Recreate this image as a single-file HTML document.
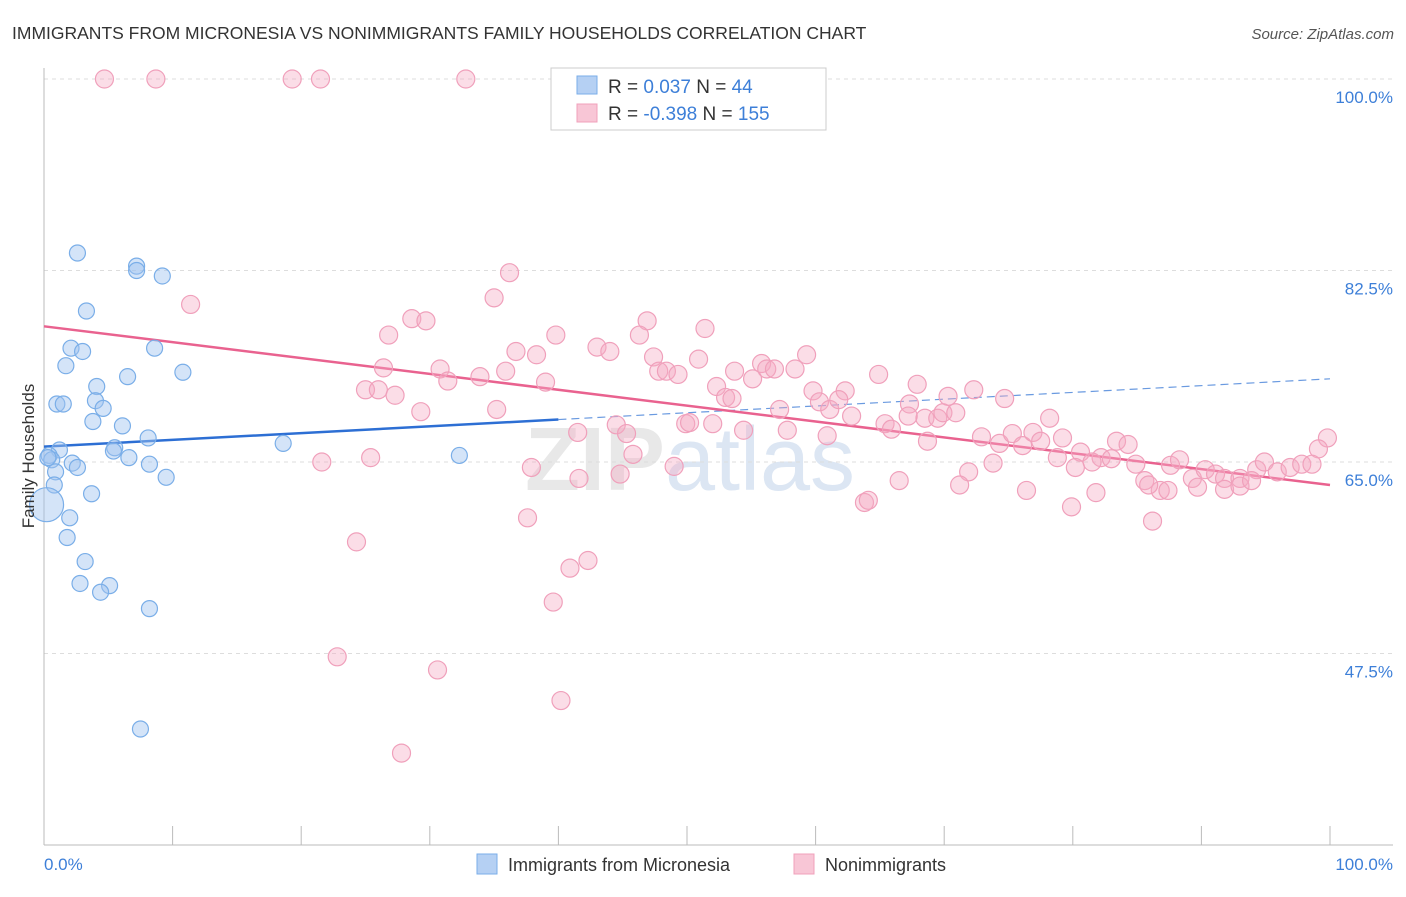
<!DOCTYPE html>
<html><head><meta charset="utf-8">
<style>
body{margin:0;background:#fff;font-family:"Liberation Sans",sans-serif;}
svg text{font-family:"Liberation Sans",sans-serif;}
</style></head>
<body>
<svg id="chart" width="1406" height="892" xmlns="http://www.w3.org/2000/svg">
<text x="12" y="39" font-size="17.5" fill="#333">IMMIGRANTS FROM MICRONESIA VS NONIMMIGRANTS FAMILY HOUSEHOLDS CORRELATION CHART</text>
<text x="1394" y="39" font-size="15" fill="#555" text-anchor="end" font-style="italic">Source: ZipAtlas.com</text>
<text x="690" y="490" font-size="90" fill="#e8e8e8" text-anchor="middle" font-weight="bold">ZIP<tspan fill="#dce6f3" font-weight="normal">atlas</tspan></text>
<g id="grid"></g>
<g id="axes"></g>
<g id="lines"></g>
<g id="pts"></g>
<text transform="translate(34,456) rotate(-90)" font-size="17" fill="#333" text-anchor="middle">Family Households</text>
<text x="44" y="870" font-size="17" fill="#3d7fd8">0.0%</text>
<text x="1393" y="870" font-size="17" fill="#3d7fd8" text-anchor="end">100.0%</text>
<g>
<rect x="551" y="68" width="275" height="62" fill="#fff" stroke="#ccc"/>
<rect x="577" y="76" width="20" height="18" fill="#b5d0f3" stroke="#7aaee8"/>
<rect x="577" y="104" width="20" height="18" fill="#f8c6d6" stroke="#f0a0bb"/>
<text x="608" y="93" font-size="19" fill="#333">R = <tspan fill="#3d7fd8">  0.037</tspan>   N = <tspan fill="#3d7fd8"> 44</tspan></text>
<text x="608" y="120" font-size="19" fill="#333">R = <tspan fill="#3d7fd8">-0.398</tspan>   N = <tspan fill="#3d7fd8">155</tspan></text>
</g>
<g>
<rect x="477" y="854" width="20" height="20" fill="#b5d0f3" stroke="#7aaee8"/>
<text x="508" y="871" font-size="18" fill="#333">Immigrants from Micronesia</text>
<rect x="794" y="854" width="20" height="20" fill="#f8c6d6" stroke="#f0a0bb"/>
<text x="825" y="871" font-size="18" fill="#333">Nonimmigrants</text>
</g>
</svg>
<script>
const yTicks=[100,82.5,65,47.5];
const xTicks=[0,10,20,30,40,50,60,70,80,90,100];
const blueX=[2.6,3.3,7.2,7.2,9.2,2.1,3.0,8.6,1.7,6.5,10.8,4.1,1.0,1.5,4.0,4.6,3.8,6.1,8.1,1.2,0.4,0.6,2.2,2.6,5.5,5.4,6.6,8.2,9.5,0.9,0.8,3.7,2.0,1.8,3.2,2.8,5.1,4.4,8.2,7.5,18.6,32.3,0.2,0.3];
const blueY=[84.1,78.8,82.9,82.5,82.0,75.4,75.1,75.4,73.8,72.8,73.2,71.9,70.3,70.3,70.6,69.9,68.7,68.3,67.2,66.1,65.6,65.2,64.9,64.5,66.3,66.0,65.4,64.8,63.6,64.1,62.9,62.1,59.9,58.1,55.9,53.9,53.7,53.1,51.6,40.6,66.7,65.6,61.1,65.4];
const pinkX=[4.7,8.7,19.3,21.5,32.8,36.2,35.0,11.4,28.6,29.7,26.8,39.8,46.9,46.3,51.4,43.0,44.0,36.7,38.3,47.4,50.9,59.3,26.4,30.8,35.9,33.9,31.4,39.0,47.8,48.4,49.3,53.7,55.8,56.2,56.8,55.1,58.4,64.9,25.0,26.0,27.3,52.3,53.0,53.5,59.8,62.3,67.9,72.3,74.7,29.3,35.2,57.2,60.3,61.1,61.8,62.8,67.3,68.5,69.5,69.9,70.9,67.2,70.3,78.2,49.9,52.0,50.2,44.5,45.3,54.4,57.8,60.9,65.4,65.9,72.9,74.3,75.3,76.1,76.9,77.5,79.2,80.6,83.4,84.3,82.2,99.8,99.1,41.5,45.8,21.6,25.4,68.7,78.8,81.5,83.0,84.9,87.6,88.3,89.3,90.3,91.1,91.8,93.0,94.3,94.9,95.9,96.9,97.8,98.6,80.2,85.6,86.8,87.4,89.7,91.8,93.0,93.9,85.9,73.8,71.9,71.2,66.5,76.4,81.8,79.9,86.2,63.8,64.1,49.0,37.9,41.6,44.8,37.6,24.3,40.9,42.3,39.6,22.8,30.6,40.2,27.8];
const pinkY=[100,100,100,100,100,82.3,80.0,79.4,78.1,77.9,76.6,76.6,77.9,76.6,77.2,75.5,75.1,75.1,74.8,74.6,74.4,74.8,73.6,73.5,73.3,72.8,72.4,72.3,73.3,73.3,73.0,73.3,74.0,73.5,73.5,72.6,73.5,73.0,71.6,71.6,71.1,71.9,70.9,70.8,71.5,71.5,72.1,71.6,70.8,69.6,69.8,69.8,70.5,69.8,70.7,69.2,70.3,69.0,69.0,69.5,69.5,69.2,71.0,69.0,68.5,68.5,68.6,68.4,67.6,67.9,67.9,67.4,68.5,68.0,67.3,66.7,67.6,66.5,67.7,66.9,67.2,65.9,66.9,66.6,65.4,67.2,66.2,67.7,65.7,65.0,65.4,66.9,65.4,65.0,65.3,64.8,64.7,65.2,63.5,64.3,63.9,63.5,63.5,64.3,65.0,64.1,64.5,64.8,64.8,64.5,63.3,62.4,62.4,62.7,62.5,62.8,63.3,62.9,64.9,64.1,62.9,63.3,62.4,62.2,60.9,59.6,61.3,61.5,64.6,64.5,63.5,63.9,59.9,57.7,55.3,56.0,52.2,47.2,46.0,43.2,38.4];
const blueTrend=[66.4,72.6]; // y at x=0 and x=100
const pinkTrend=[77.4,62.9];
const blueSolidEnd=40;

const NS="http://www.w3.org/2000/svg";
const X=v=>44+v*12.86;
const Y=v=>79+(100-v)*10.943;
function mk(tag,attrs,parent){const e=document.createElementNS(NS,tag);for(const k in attrs)e.setAttribute(k,attrs[k]);parent.appendChild(e);return e;}
const grid=document.getElementById('grid'),axes=document.getElementById('axes'),lines=document.getElementById('lines'),pts=document.getElementById('pts');
yTicks.forEach(t=>{
  const l=mk('line',{x1:44,x2:1393,y1:Y(t),y2:Y(t),stroke:'#ddd','stroke-dasharray':'4,4'},grid);
  
  
  const tx=mk('text',{x:1393,y:Y(t)+24,'font-size':17,fill:'#3d7fd8','text-anchor':'end'},grid);
  tx.textContent=t.toFixed(1)+'%';
  
  
});
const ya=mk('line',{x1:44,x2:44,y1:68,y2:845,stroke:'#bbb'},axes);


const xa=mk('line',{x1:44,x2:1393,y1:845,y2:845,stroke:'#bbb'},axes);


xTicks.forEach(t=>{
  const l=mk('line',{x1:X(t),x2:X(t),y1:826,y2:845,stroke:'#bbb'},axes);
  
  
});
function dot(x,y,r,fill,stroke,name){
  const c=mk('circle',{cx:X(x),cy:Y(y),r:r,fill:fill,stroke:stroke,'stroke-width':1.2},pts);
  
  
}
pinkX.forEach((x,i)=>dot(x,pinkY[i],9,'rgba(244,170,195,0.4)','#f0a0bb','nonimmigrant-point'));
blueX.forEach((x,i)=>dot(x,blueY[i],i==42?17:8,'rgba(160,196,240,0.45)','#7aaee8','micronesia-point'));
const bt=x=>blueTrend[0]+(blueTrend[1]-blueTrend[0])*x/100;
const pt=x=>pinkTrend[0]+(pinkTrend[1]-pinkTrend[0])*x/100;
let l1=mk('line',{x1:X(0),y1:Y(bt(0)),x2:X(blueSolidEnd),y2:Y(bt(blueSolidEnd)),stroke:'#2d6fd4','stroke-width':2.5},lines);


let l2=mk('line',{x1:X(blueSolidEnd),y1:Y(bt(blueSolidEnd)),x2:X(100),y2:Y(bt(100)),stroke:'#6a9ae0','stroke-width':1.2,'stroke-dasharray':'8,5'},lines);


let l3=mk('line',{x1:X(0),y1:Y(pt(0)),x2:X(100),y2:Y(pt(100)),stroke:'#e9628f','stroke-width':2.5},lines);


</script>
</body></html>
